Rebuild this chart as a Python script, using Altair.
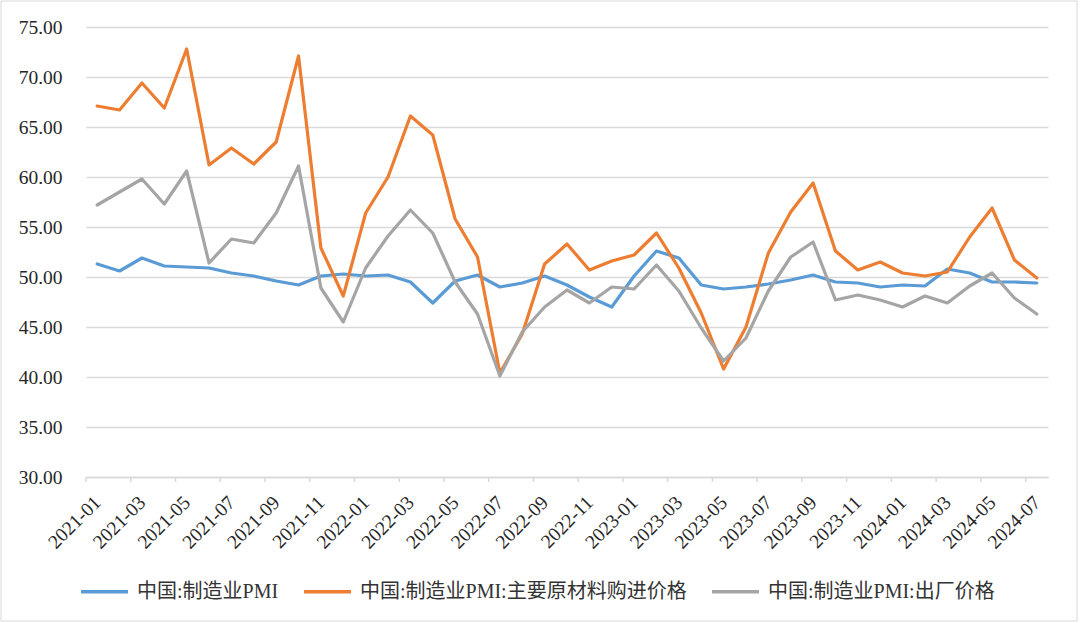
import altair as alt
import pandas as pd

months = [f"{y}-{m:02d}" for y in range(2021, 2025) for m in range(1, 13)][:43]

pmi = [51.3, 50.6, 51.9, 51.1, 51.0, 50.9, 50.4, 50.1, 49.6, 49.2, 50.1, 50.3,
       50.1, 50.2, 49.5, 47.4, 49.6, 50.2, 49.0, 49.4, 50.1, 49.2, 48.0, 47.0,
       50.1, 52.6, 51.9, 49.2, 48.8, 49.0, 49.3, 49.7, 50.2, 49.5, 49.4, 49.0,
       49.2, 49.1, 50.8, 50.4, 49.5, 49.5, 49.4]
input_price = [67.1, 66.7, 69.4, 66.9, 72.8, 61.2, 62.9, 61.3, 63.5, 72.1, 52.9, 48.1,
               56.4, 60.0, 66.1, 64.2, 55.8, 52.0, 40.4, 44.3, 51.3, 53.3, 50.7, 51.6,
               52.2, 54.4, 50.9, 46.4, 40.8, 45.0, 52.4, 56.5, 59.4, 52.6, 50.7, 51.5,
               50.4, 50.1, 50.5, 54.0, 56.9, 51.7, 49.9]
output_price = [57.2, 58.5, 59.8, 57.3, 60.6, 51.4, 53.8, 53.4, 56.4, 61.1, 48.9, 45.5,
                50.9, 54.1, 56.7, 54.4, 49.5, 46.3, 40.1, 44.5, 47.0, 48.7, 47.4, 49.0,
                48.8, 51.2, 48.6, 44.9, 41.6, 43.9, 48.6, 52.0, 53.5, 47.7, 48.2, 47.7,
                47.0, 48.1, 47.4, 49.1, 50.4, 47.9, 46.3]

series_names = ["中国:制造业PMI", "中国:制造业PMI:主要原材料购进价格", "中国:制造业PMI:出厂价格"]
series_colors = ["#5B9BD5", "#ED7D31", "#A5A5A5"]
y_ticks = [30, 35, 40, 45, 50, 55, 60, 65, 70, 75]

rows = []
for name, vals in zip(series_names, [pmi, input_price, output_price]):
    for i, v in enumerate(vals):
        rows.append({"idx": i, "month": months[i], "series": name, "value": v})
df = pd.DataFrame(rows)

tick_df = pd.DataFrame({"xb": [-0.5 + 2 * k for k in range(22)]})

W, H = 962, 450
FONT = "Liberation Serif, Noto Sans CJK SC"
label_expr = "[" + ",".join(f"'{m}'" for m in months) + "][datum.value]"

x_scale = alt.Scale(domain=[-0.5, 42.5], nice=False, zero=False)
y_scale = alt.Scale(domain=[30, 75], nice=False, zero=False)
color_scale = alt.Scale(domain=series_names, range=series_colors)

x_axis = alt.Axis(values=list(range(0, 43, 2)), labelExpr=label_expr, labelAngle=-45,
                  labelAlign="right", labelBaseline="middle", labelPadding=22,
                  ticks=False, grid=False, domainColor="#d9d9d9", domainWidth=1.5,
                  title=None, labelFontSize=19.5, labelFont=FONT, labelColor="#262626",
                  labelOverlap=False, labelFlush=False)
y_axis = alt.Axis(values=y_ticks, format=".2f", ticks=False, domain=False,
                  gridColor="#d9d9d9", gridWidth=1.3, labelPadding=24,
                  labelFontSize=19.5, labelFont=FONT, labelColor="#262626", title=None)

legend = alt.Legend(orient="none", legendX=-7, legendY=539, direction="horizontal",
                    title=None, symbolType="stroke", symbolSize=2209, symbolStrokeWidth=3.5,
                    labelFontSize=20, labelFont=FONT, labelColor="#333333", labelLimit=0,
                    columnPadding=18, labelOffset=7, columns=3, padding=0)

border = alt.Chart(pd.DataFrame({"a": [0]})).mark_rect(
    fill="transparent", stroke="#d9d9d9", strokeWidth=1, clip=False
).encode(x=alt.value(-85), x2=alt.value(W + 29), y=alt.value(-26), y2=alt.value(H + 144))

lines = []
for name in series_names:
    ln = alt.Chart(df).transform_filter(alt.datum.series == name).mark_line(
        strokeWidth=3.2, strokeJoin="round", strokeCap="round"
    ).encode(
        x=alt.X("idx:Q", scale=x_scale, axis=x_axis),
        y=alt.Y("value:Q", scale=y_scale, axis=y_axis),
        color=alt.Color("series:N", scale=color_scale, legend=legend),
        order="idx:Q",
    )
    lines.append(ln)

ticks = alt.Chart(tick_df).mark_rule(color="#d9d9d9", strokeWidth=1.5).encode(
    x=alt.X("xb:Q", scale=x_scale, axis=x_axis),
    y=alt.value(H), y2=alt.value(H + 5),
)

chart = alt.layer(border, *lines, ticks).properties(
    width=W, height=H,
    padding={"left": 86, "top": 27, "right": 32, "bottom": 146},
    autosize=alt.AutoSizeParams(type="none"),
    background="white",
).configure_view(stroke=None)

chart.save("out.html", embed_options={"renderer": "svg", "actions": False})
